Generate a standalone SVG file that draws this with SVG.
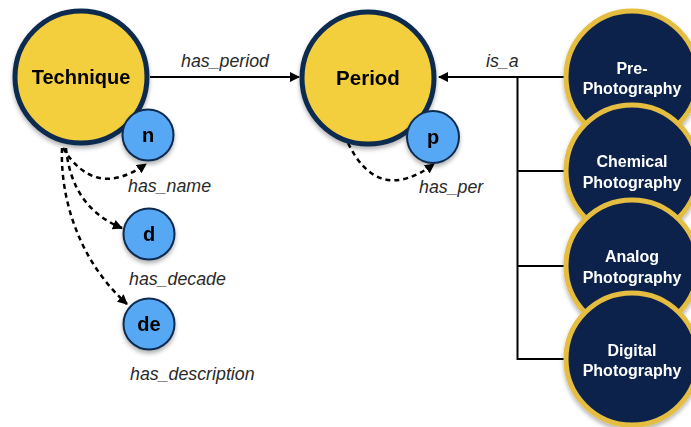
<svg xmlns="http://www.w3.org/2000/svg" width="691" height="427" viewBox="0 0 691 427">
<defs>
<style>
.big{fill:#f3cf3e;stroke:#0f2a4f;stroke-width:5}
.small{fill:#57a8f5;stroke:#0f2a4f;stroke-width:2}
.cls{fill:#0b234b;stroke:#e5bd40;stroke-width:5}
.lbl{font-family:"Liberation Sans",Arial,sans-serif;font-weight:bold;fill:#000;text-anchor:middle}
.wl{font-family:"Liberation Sans",Arial,sans-serif;font-weight:bold;fill:#fff;text-anchor:middle;font-size:16px}
.el{font-family:"Liberation Sans",Arial,sans-serif;font-style:italic;fill:#2a2a2a;font-size:17.8px}
.solid{fill:none;stroke:#000;stroke-width:2}
.dash{fill:none;stroke:#000;stroke-width:2.5;stroke-dasharray:5 4}
</style>
<marker id="ah" viewBox="0 0 10 10" refX="9" refY="5" markerWidth="10" markerHeight="10" markerUnits="userSpaceOnUse" orient="auto">
<path d="M0,0 L10,5 L0,10 Z" fill="#000"/>
</marker>
<filter id="sh" x="-20%" y="-20%" width="140%" height="150%">
<feDropShadow dx="0" dy="3" stdDeviation="2" flood-color="#000" flood-opacity="0.3"/>
</filter>
</defs>
<g id="connectors">
<path class="solid" d="M150,77 L299,77" marker-end="url(#ah)"/>
<text class="el" x="181" y="67">has_period</text>
<path class="solid" d="M566,77 L439,77" marker-end="url(#ah)"/>
<path class="solid" d="M517.5,77 L517.5,359 L566,359 M517.5,171 L566,171 M517.5,266 L566,266"/>
<text class="el" x="486" y="67">is_a</text>
<path class="dash" d="M63,148 Q95,200 146,164" marker-end="url(#ah)"/>
<text class="el" x="128" y="192">has_name</text>
<path class="dash" d="M66,148 C70,190 90,215 122,228" marker-end="url(#ah)"/>
<text class="el" x="129" y="285">has_decade</text>
<path class="dash" d="M62,148 C60,200 80,262 127,304" marker-end="url(#ah)"/>
<text class="el" x="130" y="380">has_description</text>
<path class="dash" d="M348,143 Q378,205 434,164" marker-end="url(#ah)"/>
<text class="el" x="419" y="193">has_per</text>
</g>
<g id="technique" filter="url(#sh)">
<circle class="big" cx="81" cy="77" r="66"/>
<text class="lbl" x="81" y="84" font-size="20">Technique</text>
</g>
<g id="period" filter="url(#sh)">
<circle class="big" cx="368" cy="78" r="66"/>
<text class="lbl" x="368" y="85" font-size="20.5">Period</text>
</g>
<g id="n" filter="url(#sh)">
<circle class="small" cx="148" cy="135" r="25.5"/>
<text class="lbl" x="148" y="142" font-size="20">n</text>
</g>
<g id="p" filter="url(#sh)">
<circle class="small" cx="433" cy="137" r="26"/>
<text class="lbl" x="433" y="144" font-size="20">p</text>
</g>
<g id="d" filter="url(#sh)">
<circle class="small" cx="149" cy="234" r="25.5"/>
<text class="lbl" x="149" y="241" font-size="20">d</text>
</g>
<g id="de" filter="url(#sh)">
<circle class="small" cx="149" cy="324" r="25.5"/>
<text class="lbl" x="149" y="331" font-size="20">de</text>
</g>
<g id="pre" filter="url(#sh)">
<circle class="cls" cx="632" cy="77" r="66"/>
<text class="wl" x="632" y="74">Pre-</text>
<text class="wl" x="632" y="94">Photography</text>
</g>
<g id="chemical" filter="url(#sh)">
<circle class="cls" cx="632" cy="171" r="66"/>
<text class="wl" x="632" y="167">Chemical</text>
<text class="wl" x="632" y="188">Photography</text>
</g>
<g id="analog" filter="url(#sh)">
<circle class="cls" cx="632" cy="266" r="66"/>
<text class="wl" x="632" y="262">Analog</text>
<text class="wl" x="632" y="283">Photography</text>
</g>
<g id="digital" filter="url(#sh)">
<circle class="cls" cx="632" cy="359" r="66"/>
<text class="wl" x="632" y="356">Digital</text>
<text class="wl" x="632" y="376">Photography</text>
</g>
</svg>
